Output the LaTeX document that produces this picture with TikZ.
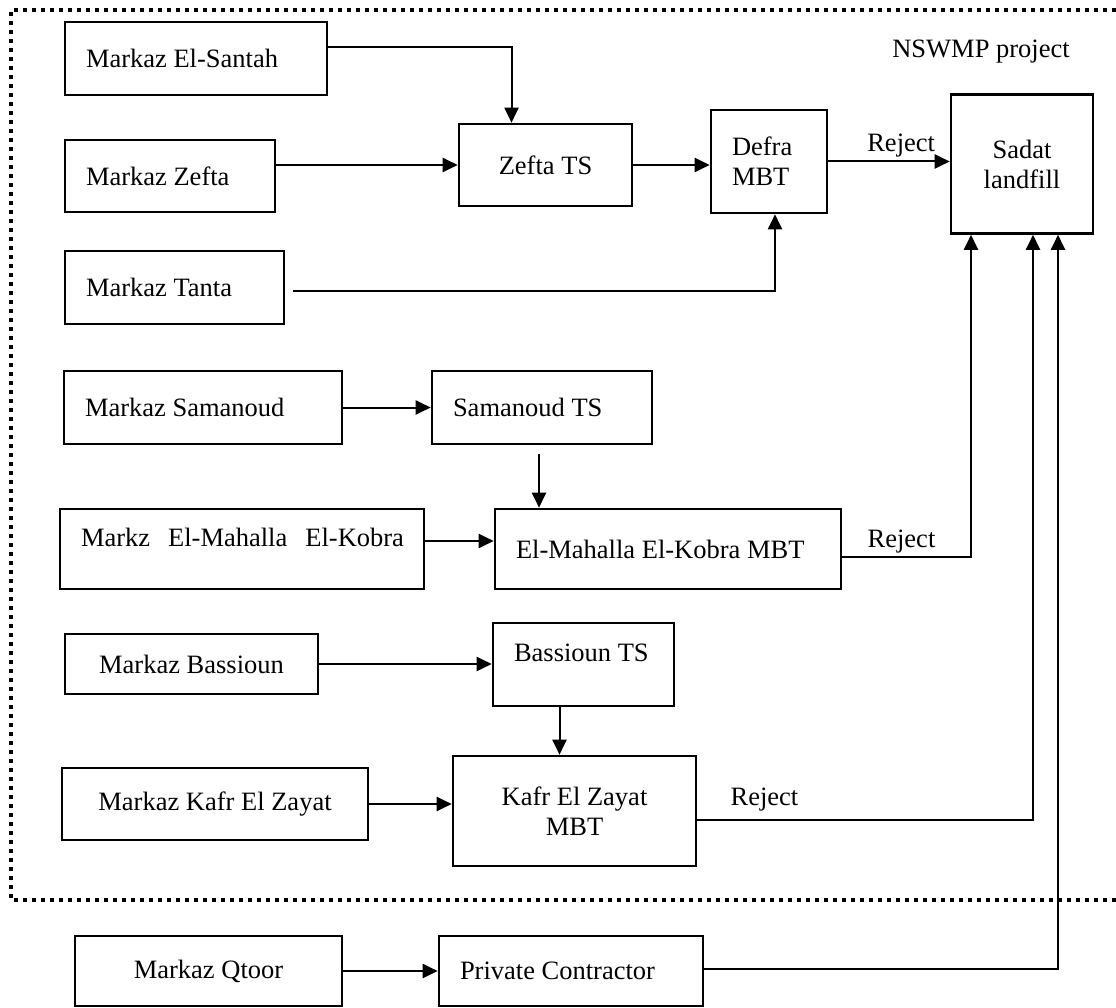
\documentclass[tikz,border=0pt]{standalone}
\usepackage{fontspec}
\setmainfont{Liberation Serif}
\usetikzlibrary{arrows.meta}
\begin{document}
\fontsize{26.5pt}{30pt}\selectfont
\begin{tikzpicture}[x=1pt, y=-1pt,
	box/.style={rectangle, draw=black, line width=2.6pt, inner sep=0pt, align=center},
	lbox/.style={box, inner xsep=21pt, align=flush left},
	line/.style={line width=2pt},
	arrow/.style={line width=2pt, -{Triangle[length=15pt,width=14pt]}},
	frame/.style={line width=4pt, dash pattern=on 4pt off 5pt}]
	\useasboundingbox (0,0) rectangle (1116,1008);
	
	\draw [frame] (1116,10) -- (11,10) -- (11,900) -- (1116,900);
	
	\node (nswmp) at (981,52) {NSWMP project};
	
	\node (santah) [lbox, text width=220pt, minimum height=73pt] at (196,58.5) {Markaz El-Santah};
	\node (zefta) [lbox, text width=168pt, minimum height=72pt] at (170,176) {Markaz Zefta};
	\node (tanta) [lbox, text width=177pt, minimum height=73pt] at (174.5,287.5) {Markaz Tanta};
	\node (zeftats) [box, minimum width=173pt, minimum height=82pt] at (545.5,165) {Zefta TS};
	\node (defra) [lbox, text width=74pt, minimum height=103pt] at (769,161.5) {Defra\\MBT};
	\node (sadat) [box, minimum width=142pt, minimum height=139pt] at (1022,164) {Sadat\\landfill};
	
	\node (samanoud) [lbox, text width=236pt, minimum height=73pt] at (203,407.5) {Markaz Samanoud};
	\node (samanoudts) [lbox, text width=178pt, minimum height=73pt] at (542,407.5) {Samanoud TS};
	\node (mahalla) [lbox, text width=322pt, minimum height=80pt, text height=18pt, text depth=24pt] at (242,549) {\mbox{Markz\hspace{0.68em}El-Mahalla\hspace{0.68em}El-Kobra}};
	\node (mahallambt) [lbox, text width=304pt, minimum height=80pt] at (668,549) {El-Mahalla El-Kobra MBT};
	
	\node (bassioun) [box, minimum width=253pt, minimum height=60pt] at (191.5,664) {Markaz Bassioun};
	\node (bassiounts) [lbox, text width=139pt, minimum height=83pt, text height=18pt, text depth=25pt] at (583.5,664.5) {Bassioun TS};
	\node (kafr) [box, minimum width=306pt, minimum height=72pt] at (215,804) {Markaz Kafr El Zayat};
	\node (kafrmbt) [box, minimum width=243pt, minimum height=110pt] at (574.5,811) {Kafr El Zayat\\MBT};
	
	\node (qtoor) [box, minimum width=267pt, minimum height=70pt] at (208.5,971) {Markaz Qtoor};
	\node (contractor) [lbox, text width=222pt, minimum height=70pt] at (571,971) {Private Contractor};
	
	\draw [arrow] ([yshift=11pt]santah.east) -| ([xshift=-34pt]zeftats.north);
	\draw [arrow] (zeftats.west -| zefta.east) -- (zeftats.west);
	\draw [arrow, shorten <=8pt] ([yshift=-4pt]tanta.east) -| ([xshift=6pt]defra.south);
	\draw [arrow] (zeftats.east) -- (zeftats.east -| defra.west);
	\draw [arrow] (defra.east) -- node (reject1) [above, pos=0.6, inner sep=3pt] {Reject} (defra.east -| sadat.west);
	
	\draw [arrow] (samanoud.east) -- (samanoudts.west);
	\draw [arrow, shorten <=9pt] ([xshift=-3pt]samanoudts.south) -- ([xshift=-3pt]samanoudts.south |- mahallambt.north);
	\draw [arrow] ([yshift=8pt]mahalla.east) -- ([yshift=8pt]mahalla.east -| mahallambt.west);
	\draw [arrow] ([yshift=-8pt]mahallambt.east) -| node (reject2) [above, pos=0.23, inner sep=3pt] {Reject} ([xshift=-51pt]sadat.south);
	
	\draw [arrow] (bassioun.east) -- (bassioun.east -| bassiounts.west);
	\draw [arrow] ([xshift=-24pt]bassiounts.south) -- ([xshift=-24pt]bassiounts.south |- kafrmbt.north);
	\draw [arrow] (kafr.east) -- (kafr.east -| kafrmbt.west);
	\draw [arrow] ([yshift=-9pt]kafrmbt.east) -| node (reject3) [above, pos=0.1, inner sep=8pt] {Reject} ([xshift=11pt]sadat.south);
	
	\draw [arrow] (qtoor.east) -- (contractor.west);
	\draw [arrow] ([yshift=2pt]contractor.east) -| ([xshift=36pt]sadat.south);
\end{tikzpicture}
\end{document}
